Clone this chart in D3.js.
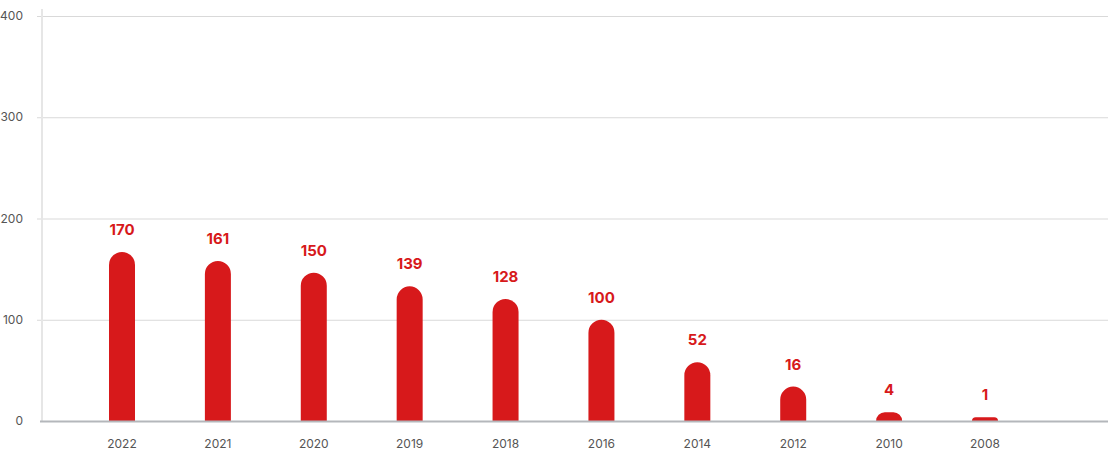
<!DOCTYPE html>
<html>
<head>
<meta charset="utf-8">
<script src="https://cdn.jsdelivr.net/npm/d3@7/dist/d3.min.js"></script>
<style>
  html, body { margin: 0; padding: 0; background: #fff; }
  svg { display: block; font-family: Inter, "Noto Sans", sans-serif; }
</style>
</head>
<body>
<svg id="chart" width="1108" height="451"></svg>
<script>
(function () {
// Data
const years = ["2022", "2021", "2020", "2019", "2018", "2016", "2014", "2012", "2010", "2008"];
const values = [170, 161, 150, 139, 128, 100, 52, 16, 4, 1];
// Bar heights as drawn in the reference (in axis units)
const barHeights = [167, 158, 146.5, 133, 120.5, 100, 58, 34, 8.6, 3.7];
const yTicks = [0, 100, 200, 300, 400];

const svg = d3.select("#chart");
const plotLeft = 42, plotRight = 1108, plotTop = 16, plotBottom = 421;

const y = d3.scaleLinear().domain([0, 400]).range([plotBottom, plotTop]);
const x = d3.scalePoint().domain(years).range([122, 985]);
const barW = 26;

// gridlines
svg.append("g").selectAll("line").data(yTicks.filter(d => d > 0)).join("line")
  .attr("x1", 37).attr("x2", plotRight)
  .attr("y1", d => y(d) + 0.5).attr("y2", d => y(d) + 0.5)
  .attr("stroke", "#d9d9d9").attr("stroke-width", 1);

// vertical axis line
svg.append("line").attr("x1", plotLeft).attr("x2", plotLeft).attr("y1", 9).attr("y2", plotBottom)
  .attr("stroke", "#e6e6e6").attr("stroke-width", 2);

// y tick labels
svg.append("g").selectAll("text").data(yTicks).join("text")
  .attr("x", 23).attr("y", d => y(d)).attr("dy", "0.35em")
  .attr("text-anchor", "end").attr("font-size", 12).attr("fill", "#555")
  .text(d => d);

// bars with rounded top (circular corners, radius limited by height)
function barPath(cx, h) {
  const x0 = cx - barW / 2, x1 = cx + barW / 2;
  const y0 = plotBottom, yt = plotBottom - h;
  const r = Math.min(barW / 2, h);
  return `M${x0},${y0} L${x0},${yt + r} A${r},${r} 0 0 1 ${x0 + r},${yt} L${x1 - r},${yt} A${r},${r} 0 0 1 ${x1},${yt + r} L${x1},${y0} Z`;
}
svg.append("g").selectAll("path").data(years).join("path")
  .attr("d", (d, i) => barPath(x(d), y(0) - y(barHeights[i])))
  .attr("fill", "#d7191b");

// value labels
svg.append("g").selectAll("text").data(years).join("text")
  .attr("x", d => x(d))
  .attr("y", (d, i) => y(barHeights[i]) - 17)
  .attr("text-anchor", "middle").attr("font-size", 15).attr("font-weight", 700)
  .attr("fill", "#d7191b")
  .text((d, i) => values[i]);

// baseline
svg.append("line").attr("x1", 40).attr("x2", plotRight).attr("y1", plotBottom + 0.5).attr("y2", plotBottom + 0.5)
  .attr("stroke", "#b4b7bb").attr("stroke-width", 2);

// x labels
svg.append("g").selectAll("text").data(years).join("text")
  .attr("x", d => x(d)).attr("y", 448)
  .attr("text-anchor", "middle").attr("font-size", 12).attr("fill", "#555")
  .text(d => d);
})();
</script>
</body>
</html>
